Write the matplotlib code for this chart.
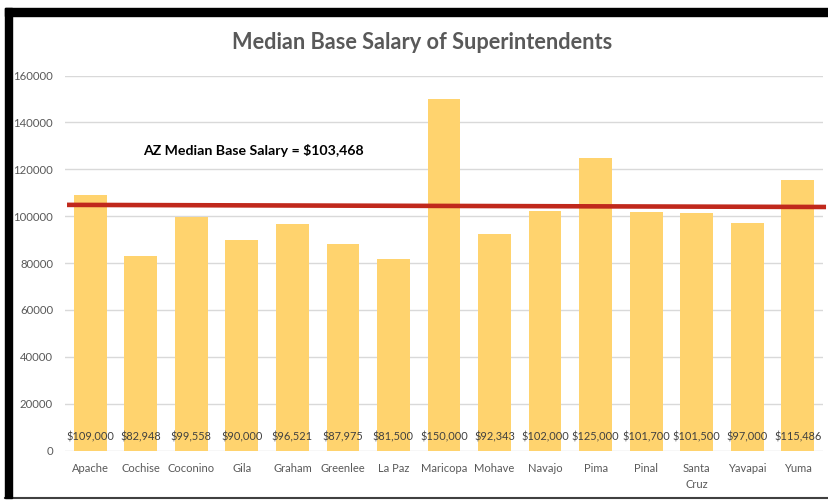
import matplotlib
matplotlib.use("Agg")
import matplotlib.pyplot as plt
from matplotlib.patches import Rectangle
from matplotlib.lines import Line2D

counties = ["Apache", "Cochise", "Coconino", "Gila", "Graham", "Greenlee", "La Paz",
            "Maricopa", "Mohave", "Navajo", "Pima", "Pinal", "Santa\nCruz", "Yavapai", "Yuma"]
salaries = [109000, 82948, 99558, 90000, 96521, 87975, 81500,
            150000, 92343, 102000, 125000, 101700, 101500, 97000, 115486]
avg_line = [104800, 103900]   # hand-drawn red reference line (left, right)
avg_label = "AZ Median Base Salary = $103,468"
yticks = [0, 20000, 40000, 60000, 80000, 100000, 120000, 140000, 160000]

FONT = ["Lato", "DejaVu Sans"]
plt.rcParams["font.family"] = FONT

fig = plt.figure(figsize=(8.29, 5.0), dpi=100)
W, H = 829, 500
ax = fig.add_axes([65 / W, 49.5 / H, (823 - 65) / W, 375 / H])

x = list(range(len(counties)))
ax.bar(x, salaries, width=0.65, color="#FFD36E", zorder=2)
ax.set_xlim(-0.5, len(counties) - 0.5)
ax.set_ylim(0, 160000)
ax.set_yticks(yticks)
ax.set_yticklabels([str(v) for v in yticks], fontsize=8.2, color="#595959")
ax.set_xticks(x)
ax.set_xticklabels(counties, fontsize=8, color="#595959", linespacing=1.5)
ax.tick_params(axis="both", length=0)
ax.tick_params(axis="y", pad=8.6)
ax.tick_params(axis="x", pad=9)
ax.grid(axis="y", color="#D9D9D9", linewidth=1, zorder=0)
for s in ax.spines.values():
    s.set_visible(False)

for xi, v in zip(x, salaries):
    ax.text(xi, 6000, "${:,}".format(v), ha="center", va="center",
            fontsize=7.9, color="#404040", zorder=3)

ax.plot([-0.46, 14.56], avg_line, color="#C0281C", linewidth=3.3,
        solid_capstyle="butt", clip_on=False, zorder=4)
ax.text(3.23, 127800, avg_label, ha="center", va="center", fontsize=10.2,
        fontweight="bold", color="#000000")

fig.text(422 / W, 1 - 42.5 / H, "Median Base Salary of Superintendents",
         ha="center", va="center", fontsize=15.7, fontweight="bold", color="#595959")

# outer frame
fig.patches.append(Rectangle((5 / W, 1 - 16 / H), (W - 5) / W, 8 / H,
                             transform=fig.transFigure, color="black", zorder=10))
fig.patches.append(Rectangle((5 / W, 1 - 498 / H), 7 / W, 490 / H,
                             transform=fig.transFigure, color="black", zorder=10))
fig.lines.append(Line2D([5 / W, 1], [1 - 497.5 / H] * 2, transform=fig.transFigure,
                        color="#404040", linewidth=1.5))

fig.savefig("out.png", dpi=100, facecolor="white")
